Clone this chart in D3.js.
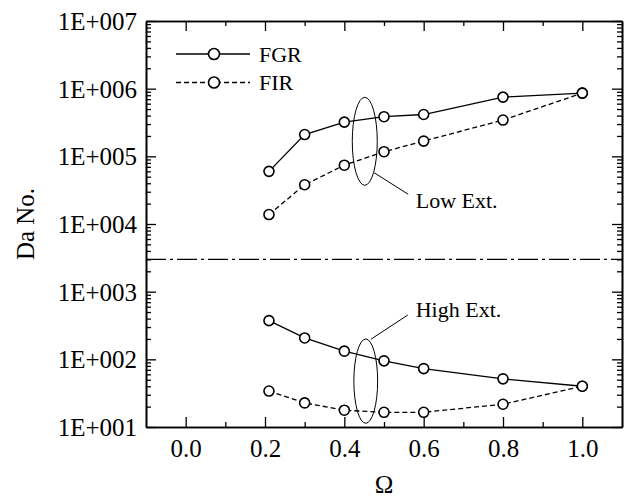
<!DOCTYPE html>
<html>
<head>
<meta charset="utf-8">
<script src="https://cdn.jsdelivr.net/npm/d3@7"></script>
<style>
  html, body { margin: 0; padding: 0; background: #fff; }
  svg { display: block; }
  svg text { font-family: "Liberation Serif", "Times New Roman", serif; fill: #000; }
</style>
</head>
<body>
<div id="chart"></div>
<script>
// data
var omega = [0.21, 0.3, 0.4, 0.5, 0.6, 0.8, 1.0];
var fgrLow = [6.0e4, 2.1e5, 3.2e5, 3.85e5, 4.15e5, 7.5e5, 8.6e5];
var firLow = [1.38e4, 3.8e4, 7.4e4, 1.17e5, 1.68e5, 3.44e5, 8.6e5];
var fgrHigh = [373, 207, 132, 95, 73, 51.5, 40];
var firHigh = [34, 22.7, 17.7, 16.5, 16.5, 21.7, 40];
var xTicks = [0.0, 0.2, 0.4, 0.6, 0.8, 1.0];
var yDecades = [1e1, 1e2, 1e3, 1e4, 1e5, 1e6, 1e7];
var splitValue = 3000;
var seriesNames = ["FGR", "FIR"];

var width = 629, height = 498;
var margin = { top: 21, right: 7, bottom: 71, left: 146 };
var iw = width - margin.left - margin.right,
  ih = height - margin.top - margin.bottom;

var x = d3.scaleLinear().domain([-0.1, 1.1]).range([0, iw]);
var y = d3.scaleLog().domain([10, 1e7]).range([ih, 0]);

var svg = d3.select("#chart").append("svg")
  .attr("width", width)
  .attr("height", height)
  .append("g")
  .attr("transform", "translate(" + margin.left + "," + margin.top + ")");

// minor ticks on log axis
var yMinor = [];
yDecades.slice(0, -1).forEach(function(d) {
  for (var k = 2; k <= 9; k++) yMinor.push(d * k);
});
var xMinor = d3.range(-0.1, 1.11, 0.1).map(function(v) { return +v.toFixed(1); })
  .filter(function(v) { return xTicks.indexOf(v) < 0 && v > -0.1 && v < 1.1; });

function fmtE(d) {
  var e = Math.round(Math.log10(d));
  return "1E+" + String(e).padStart(3, "0");
}

function styleAxis(g) {
  g.attr("font-family", null).attr("font-size", null);
  g.selectAll("path").attr("stroke", "#000").attr("stroke-width", 1.6);
  g.selectAll("line").attr("stroke", "#000").attr("stroke-width", 1.3);
  g.selectAll("text").attr("fill", "#000").style("font-size", "25px");
}

// Left axis
svg.append("g").call(d3.axisLeft(y).tickValues(yMinor).tickSizeInner(-5).tickSizeOuter(0).tickFormat(""))
  .call(styleAxis);
svg.append("g").call(d3.axisLeft(y).tickValues(yDecades).tickSizeInner(-10).tickSizeOuter(0)
  .tickPadding(9).tickFormat(fmtE))
  .call(styleAxis)
  .selectAll("text").attr("dy", "0.34em");

// Right axis
svg.append("g").attr("transform", "translate(" + iw + ",0)")
  .call(d3.axisRight(y).tickValues(yMinor).tickSizeInner(-5).tickSizeOuter(0).tickFormat(""))
  .call(styleAxis);
svg.append("g").attr("transform", "translate(" + iw + ",0)")
  .call(d3.axisRight(y).tickValues(yDecades).tickSizeInner(-10).tickSizeOuter(0).tickFormat(""))
  .call(styleAxis);

// Bottom axis
svg.append("g").attr("transform", "translate(0," + ih + ")")
  .call(d3.axisBottom(x).tickValues(xMinor).tickSizeInner(-5).tickSizeOuter(0).tickFormat(""))
  .call(styleAxis);
svg.append("g").attr("transform", "translate(0," + ih + ")")
  .call(d3.axisBottom(x).tickValues(xTicks).tickSizeInner(-10).tickSizeOuter(0)
    .tickPadding(12).tickFormat(d3.format(".1f")))
  .call(styleAxis);

// Top axis
svg.append("g")
  .call(d3.axisTop(x).tickValues(xMinor).tickSizeInner(-5).tickSizeOuter(0).tickFormat(""))
  .call(styleAxis);
svg.append("g")
  .call(d3.axisTop(x).tickValues(xTicks).tickSizeInner(-10).tickSizeOuter(0).tickFormat(""))
  .call(styleAxis);

// axis titles
svg.append("text")
  .attr("transform", "translate(" + (-112) + "," + (ih / 2) + ") rotate(-90)")
  .attr("text-anchor", "middle")
  .style("font-size", "25px")
  .text("Da No.");
svg.append("text")
  .attr("x", iw / 2)
  .attr("y", ih + 66)
  .attr("text-anchor", "middle")
  .style("font-size", "25px")
  .text("\u03A9");

// separator between the two regimes
svg.append("line")
  .attr("x1", 0).attr("x2", iw)
  .attr("y1", y(splitValue)).attr("y2", y(splitValue))
  .attr("stroke", "#000").attr("stroke-width", 1.2)
  .attr("stroke-dasharray", "20,4,3,4");

var line = d3.line()
  .x(function(d) { return x(d[0]); })
  .y(function(d) { return y(d[1]); });

function drawSeries(vals, dashed) {
  var pts = omega.map(function(o, i) { return [o, vals[i]]; });
  svg.append("path")
    .datum(pts)
    .attr("fill", "none")
    .attr("stroke", "#000")
    .attr("stroke-width", 1.3)
    .attr("stroke-dasharray", dashed ? "5,3" : null)
    .attr("d", line);
  svg.append("g").selectAll("circle")
    .data(pts)
    .join("circle")
    .attr("cx", function(d) { return x(d[0]); })
    .attr("cy", function(d) { return y(d[1]); })
    .attr("r", 5)
    .attr("fill", "#fff")
    .attr("stroke", "#000")
    .attr("stroke-width", 1.6);
}

drawSeries(fgrLow, false);
drawSeries(firLow, true);
drawSeries(fgrHigh, false);
drawSeries(firHigh, true);

// annotations: ellipses, leaders and labels
var notes = [
  { label: "Low Ext.", ex: [0.42, 0.483], ey: [3.73e4, 7.45e5], lead: [[0.475, 5.73e4], [0.561, 2.75e4]], at: [0.58, 1.73e4] },
  { label: "High Ext.", ex: [0.424, 0.484], ey: [11.35, 200], lead: [[0.467, 198], [0.56, 452]], at: [0.58, 423] }
];
notes.forEach(function(n) {
  var cx = (x(n.ex[0]) + x(n.ex[1])) / 2, cy = (y(n.ey[0]) + y(n.ey[1])) / 2;
  svg.append("ellipse")
    .attr("cx", cx).attr("cy", cy)
    .attr("rx", (x(n.ex[1]) - x(n.ex[0])) / 2)
    .attr("ry", (y(n.ey[0]) - y(n.ey[1])) / 2)
    .attr("fill", "none").attr("stroke", "#000").attr("stroke-width", 1);
  svg.append("line")
    .attr("x1", x(n.lead[0][0])).attr("y1", y(n.lead[0][1]))
    .attr("x2", x(n.lead[1][0])).attr("y2", y(n.lead[1][1]))
    .attr("stroke", "#000").attr("stroke-width", 1);
  svg.append("text")
    .attr("x", x(n.at[0])).attr("y", y(n.at[1]))
    .style("font-size", "22px")
    .text(n.label);
});

// legend
var legend = svg.append("g").attr("transform", "translate(30,33)");
seriesNames.forEach(function(name, i) {
  var gy = i * 28.5;
  legend.append("line")
    .attr("x1", 0).attr("x2", 74).attr("y1", gy).attr("y2", gy)
    .attr("stroke", "#000").attr("stroke-width", 1.3)
    .attr("stroke-dasharray", i === 1 ? "5,3" : null);
  legend.append("circle")
    .attr("cx", 38).attr("cy", gy).attr("r", 5.5)
    .attr("fill", "#fff").attr("stroke", "#000").attr("stroke-width", 1.6);
  legend.append("text")
    .attr("x", 83).attr("y", gy + 7.5)
    .style("font-size", "22px")
    .text(name);
});
</script>
</body>
</html>
